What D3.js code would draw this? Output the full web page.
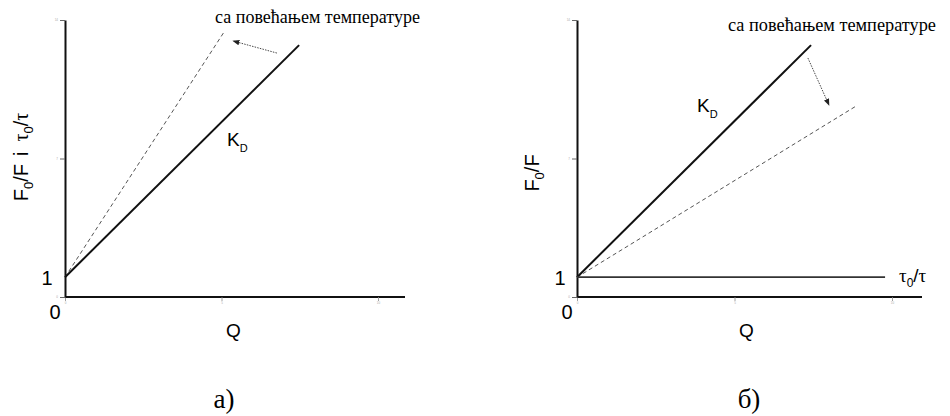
<!DOCTYPE html>
<html>
<head>
<meta charset="utf-8">
<script src="https://cdn.jsdelivr.net/npm/d3@7"></script>
<style>
  html, body { margin: 0; padding: 0; background: #fff; }
  svg { display: block; }
</style>
</head>
<body>
<svg id="chart" width="950" height="416"></svg>
<script>
// Axis ticks (generic quencher concentration Q and intensity ratio scales)
const xTicks = [0, 5, 10];
const yTicks = [0, 7, 14];

// Panel а: static + dynamic quenching (both ratios rise)
const aKD = [[0, 1], [7.48, 12.73]];          // F0/F, K_D line
const aHot = [[0, 1], [5.08, 13.39]];         // at higher temperature
const aArrow = [[6.77, 12.33], [5.37, 12.94]];

// Panel б: static quenching (τ0/τ stays at 1)
const bKD = [[0, 1], [7.43, 12.73]];
const bHot = [[0, 1], [8.86, 9.65]];
const bTau = [[0, 1], [9.78, 1]];
const bArrow = [[7.33, 12.08], [8.0, 9.70]];

const tempText = "са повећањем температуре";
const panelLabels = ["а)", "б)"];

const SANS = "'Liberation Sans', Arimo, Arial, sans-serif";
const SERIF = "'Liberation Serif', Tinos, 'Times New Roman', 'DejaVu Serif', serif";

const svg = d3.select("#chart");
const defs = svg.append("defs");
defs.append("marker")
  .attr("id", "head").attr("viewBox", "0 0 10 10")
  .attr("refX", 9).attr("refY", 5)
  .attr("markerWidth", 7).attr("markerHeight", 7)
  .attr("markerUnits", "userSpaceOnUse")
  .attr("orient", "auto")
  .append("path").attr("d", "M0,1 L10,5 L0,9 Z").attr("fill", "#222");

function panel(opt) {
  const x = d3.scaleLinear().domain([0, 10]).range([opt.x0, opt.x1]);
  const y = d3.scaleLinear().domain([0, 14]).range([297, 20]);
  const g = svg.append("g");
  const line = d3.line().x(d => x(d[0])).y(d => y(d[1]));

  // axes
  const ax = g.append("g").attr("transform", `translate(0,${y(0)})`)
    .call(d3.axisBottom(x).tickValues(xTicks).tickSize(4).tickSizeOuter(0).tickPadding(1));
  ax.select(".domain").attr("stroke", "#111").attr("stroke-width", 2)
    .attr("d", `M${x(0)},0H${x(0) + opt.xEnd}`);
  ax.selectAll(".tick line").attr("stroke", "#888").attr("stroke-width", 0.8);
  ax.selectAll(".tick text").attr("font-size", 3).attr("fill", "#aaa");

  const ay = g.append("g").attr("transform", `translate(${x(0)},0)`)
    .call(d3.axisLeft(y).tickValues(yTicks).tickSize(5).tickSizeOuter(0).tickPadding(2));
  ay.select(".domain").attr("stroke", "#111").attr("stroke-width", 2);
  ay.selectAll(".tick line").attr("stroke", "#666").attr("stroke-width", 1);
  ay.selectAll(".tick text").attr("font-size", 3).attr("fill", "#aaa");

  // data lines
  g.append("path").datum(opt.hot).attr("d", line)
    .attr("fill", "none").attr("stroke", "#555").attr("stroke-width", 1)
    .attr("stroke-dasharray", "4,3");
  g.append("path").datum(opt.kd).attr("d", line)
    .attr("fill", "none").attr("stroke", "#111").attr("stroke-width", 2);
  if (opt.tau) {
    g.append("path").datum(opt.tau).attr("d", line)
      .attr("fill", "none").attr("stroke", "#333").attr("stroke-width", 1.8);
  }
  g.append("path").datum(opt.arrow).attr("d", line)
    .attr("fill", "none").attr("stroke", "#333").attr("stroke-width", 0.9)
    .attr("stroke-dasharray", "1.5,1.2").attr("marker-end", "url(#head)");

  const sans = (sel, size) => sel.style("font-family", SANS).style("font-size", size + "px");
  const serif = (sel, size) => sel.style("font-family", SERIF).style("font-size", size + "px");

  // labels
  sans(g.append("text"), 20)
    .attr("x", opt.oneX).attr("y", y(1) + 8).attr("text-anchor", "middle").text("1");
  sans(g.append("text"), 20)
    .attr("x", opt.zeroX).attr("y", 319).attr("text-anchor", "middle").text("0");
  sans(g.append("text"), 19)
    .attr("x", x(5) + 12).attr("y", 337).attr("text-anchor", "middle").text("Q");

  const kd = sans(g.append("text"), 19).attr("x", opt.kdX).attr("y", opt.kdY);
  kd.append("tspan").text("K");
  kd.append("tspan").style("font-size", "11px").attr("dy", 6).text("D");

  serif(g.append("text"), 19).attr("x", opt.tX).attr("y", opt.tY)
    .attr("textLength", opt.tW).attr("lengthAdjust", "spacingAndGlyphs").text(tempText);

  serif(g.append("text"), 27)
    .attr("x", opt.pX).attr("y", 408).attr("text-anchor", "middle").text(opt.panel);

  // rotated y label
  const yl = sans(g.append("text"), 20)
    .attr("transform", `translate(${opt.ylX},${opt.ylY}) rotate(-90)`)
    .attr("text-anchor", "middle");
  yl.append("tspan").text("F");
  yl.append("tspan").style("font-size", "13px").attr("dy", 5).text("0");
  yl.append("tspan").attr("dy", -5).text("/F");
  if (opt.full) {
    yl.append("tspan").attr("dx", 8).text("i");
    yl.append("tspan").attr("dx", 10).style("font-family", SERIF).text("τ");
    yl.append("tspan").style("font-size", "13px").attr("dy", 5).text("0");
    yl.append("tspan").attr("dy", -5).text("/");
    yl.append("tspan").style("font-family", SERIF).text("τ");
  }

  if (opt.tau) {
    const tl = sans(g.append("text"), 19).attr("x", 899).attr("y", 282);
    tl.append("tspan").style("font-family", SERIF).text("τ");
    tl.append("tspan").style("font-size", "12px").attr("dy", 5).text("0");
    tl.append("tspan").attr("dy", -5).text("/");
    tl.append("tspan").style("font-family", SERIF).text("τ");
  }
}

panel({
  x0: 65, x1: 378, xEnd: 340, hot: aHot, kd: aKD, arrow: aArrow,
  oneX: 47, zeroX: 55, kdX: 227, kdY: 146, tX: 215, tY: 23, tW: 205,
  pX: 224, panel: panelLabels[0], ylX: 28, ylY: 157, full: true
});
panel({
  x0: 577, x1: 892, xEnd: 345, hot: bHot, kd: bKD, tau: bTau, arrow: bArrow,
  oneX: 560, zeroX: 567, kdX: 697, kdY: 112, tX: 728, tY: 31, tW: 208,
  pX: 749, panel: panelLabels[1], ylX: 539, ylY: 173, full: false
});
</script>
</body>
</html>
